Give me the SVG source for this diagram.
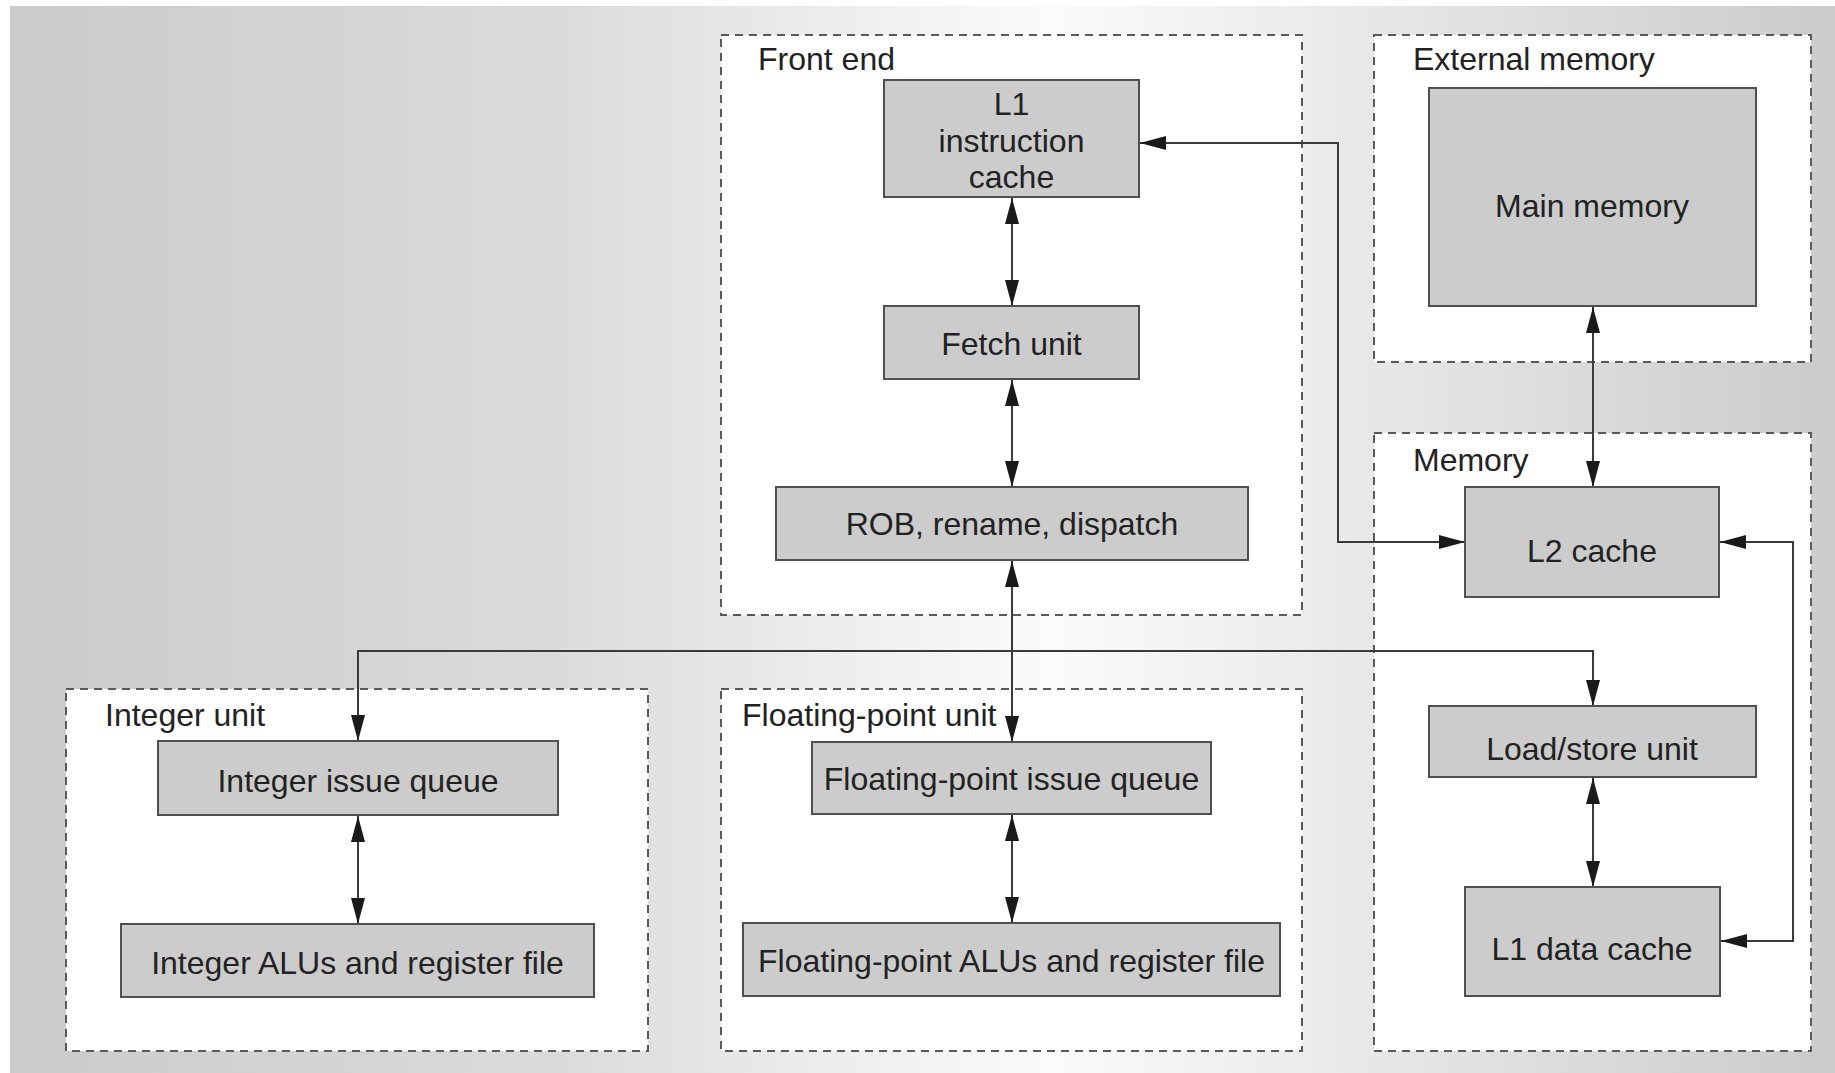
<svg xmlns="http://www.w3.org/2000/svg" width="1835" height="1073" viewBox="0 0 1835 1073">
<defs>
<linearGradient id="bg" gradientUnits="userSpaceOnUse" x1="10" y1="0" x2="1835" y2="0">
<stop offset="0" stop-color="#cbcbcb"/>
<stop offset="0.3" stop-color="#dbdbdb"/>
<stop offset="0.57" stop-color="#fbfbfb"/>
<stop offset="1" stop-color="#cbcbcb"/>
</linearGradient>
<marker id="ah" markerUnits="userSpaceOnUse" markerWidth="26" markerHeight="14" refX="26" refY="7" orient="auto-start-reverse">
<path d="M0,0 L26,7 L0,14 z" fill="#1a1a1a"/>
</marker>
</defs>
<style>
.grp{fill:#ffffff;stroke:#5a5a5a;stroke-width:2;stroke-dasharray:8 6}
.node{fill:#cccccc;stroke:#505050;stroke-width:2}
.t{font-family:"Liberation Sans",Arial,Helvetica,sans-serif;font-size:32px;fill:#222222}
.c{text-anchor:middle}
.con{fill:none;stroke:#3a3a3a;stroke-width:2;marker-start:url(#ah);marker-end:url(#ah)}
</style>
<rect x="0" y="0" width="1835" height="1073" fill="#ffffff"/>
<rect x="10" y="6" width="1825" height="1067" fill="url(#bg)"/>

<g id="front-end">
<rect class="grp" x="721" y="35" width="581" height="580"/>
<text class="t" x="758" y="70">Front end</text>
</g>
<g id="external-memory">
<rect class="grp" x="1374" y="35" width="437" height="327"/>
<text class="t" x="1413" y="70">External memory</text>
</g>
<g id="memory">
<rect class="grp" x="1374" y="433" width="437" height="618"/>
<text class="t" x="1413" y="471">Memory</text>
</g>
<g id="integer-unit">
<rect class="grp" x="66" y="689" width="582" height="362"/>
<text class="t" x="105" y="726">Integer unit</text>
</g>
<g id="fp-unit">
<rect class="grp" x="721" y="689" width="581" height="362"/>
<text class="t" x="742" y="726">Floating-point unit</text>
</g>

<g id="connectors">
<path class="con" d="M1012,198 L1012,306"/>
<path class="con" d="M1012,380 L1012,487"/>
<path class="con" d="M1012,561 L1012,742"/>
<path class="con" d="M1140,143 L1338,143 L1338,542 L1465,542"/>
<path class="con" d="M1593,307 L1593,487"/>
<path class="con" d="M1720,542 L1793,542 L1793,941 L1721,941"/>
<path class="con" d="M1593,778 L1593,887"/>
<path class="con" d="M358,816 L358,924"/>
<path class="con" d="M1012,815 L1012,923"/>
<path class="con" d="M358,741 L358,651 L1593,651 L1593,706"/>
</g>

<g id="l1-instruction-cache">
<rect class="node" x="884" y="80" width="255" height="117"/>
<text class="t c" x="1011.5" y="115">L1</text>
<text class="t c" x="1011.5" y="152">instruction</text>
<text class="t c" x="1011.5" y="188">cache</text>
</g>
<g id="fetch-unit">
<rect class="node" x="884" y="306" width="255" height="73"/>
<text class="t c" x="1011.5" y="355">Fetch unit</text>
</g>
<g id="rob">
<rect class="node" x="776" y="487" width="472" height="73"/>
<text class="t c" x="1012" y="535">ROB, rename, dispatch</text>
</g>
<g id="main-memory">
<rect class="node" x="1429" y="88" width="327" height="218"/>
<text class="t c" x="1592" y="217">Main memory</text>
</g>
<g id="l2-cache">
<rect class="node" x="1465" y="487" width="254" height="110"/>
<text class="t c" x="1592" y="562">L2 cache</text>
</g>
<g id="load-store-unit">
<rect class="node" x="1429" y="706" width="327" height="71"/>
<text class="t c" x="1592" y="760">Load/store unit</text>
</g>
<g id="l1-data-cache">
<rect class="node" x="1465" y="887" width="255" height="109"/>
<text class="t c" x="1592" y="960">L1 data cache</text>
</g>
<g id="integer-issue-queue">
<rect class="node" x="158" y="741" width="400" height="74"/>
<text class="t c" x="358" y="792">Integer issue queue</text>
</g>
<g id="integer-alus">
<rect class="node" x="121" y="924" width="473" height="73"/>
<text class="t c" x="357.5" y="974">Integer ALUs and register file</text>
</g>
<g id="fp-issue-queue">
<rect class="node" x="812" y="742" width="399" height="72"/>
<text class="t c" x="1011.5" y="790">Floating-point issue queue</text>
</g>
<g id="fp-alus">
<rect class="node" x="743" y="923" width="537" height="73"/>
<text class="t c" x="1011.5" y="972">Floating-point ALUs and register file</text>
</g>
</svg>
